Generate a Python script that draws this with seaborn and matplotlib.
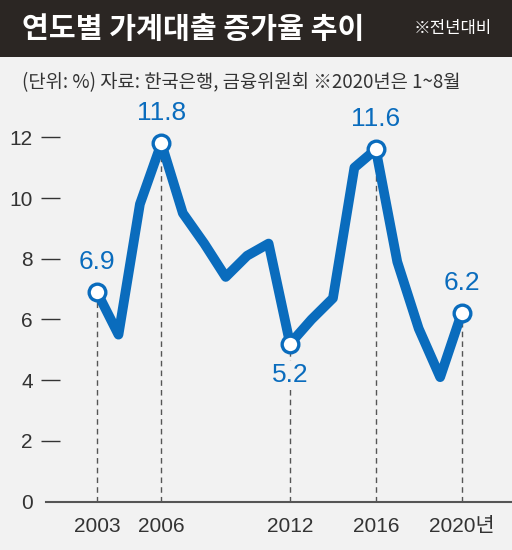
import matplotlib
matplotlib.use("Agg")
import matplotlib.pyplot as plt
from matplotlib.patches import Rectangle
from matplotlib.transforms import blended_transform_factory
import seaborn as sns
import pandas as pd

# ---- data ----
years = list(range(2003, 2021))
growth = [6.9, 5.5, 9.8, 11.8, 9.5, 8.5, 7.4, 8.1, 8.5, 5.2,
          6.0, 6.7, 11.0, 11.6, 7.9, 5.7, 4.1, 6.2]
highlight_years = [2003, 2006, 2012, 2016, 2020]
label_below = [2012]
xtick_years = [2003, 2006, 2012, 2016, 2020]
xtick_labels = ["2003", "2006", "2012", "2016", "2020년"]
ytick_vals = [0, 2, 4, 6, 8, 10, 12]
title = "연도별 가계대출 증가율 추이"
title_note = "※전년대비"
subtitle = "(단위: %) 자료: 한국은행, 금융위원회 ※2020년은 1~8월"

df = pd.DataFrame({"year": years, "growth": growth})
hl = df[df["year"].isin(highlight_years)]

BLUE = "#0a6cbd"
BG = "#f2f2f2"
BAR = "#2b2623"
GRAY = "#555555"
TXT = "#333333"

sns.set_theme(style="white")
plt.rcParams["font.family"] = ["Liberation Sans Narrow", "Liberation Sans",
                               "Noto Sans CJK KR", "DejaVu Sans"]
NUMFONT = ["Liberation Sans Narrow", "Liberation Sans", "Noto Sans CJK KR"]
KRFONT = ["Noto Sans CJK KR", "DejaVu Sans"]

W, H = 512, 550
fig = plt.figure(figsize=(W / 100, H / 100), dpi=100, facecolor=BG)

# title bar
bar_h = 56.7 / H
fig.patches.append(Rectangle((0, 1 - bar_h), 1, bar_h, transform=fig.transFigure,
                             facecolor=BAR, edgecolor="none", zorder=0))
fig.text(22 / W, 1 - 29 / H, title, color="white", fontsize=21, fontweight="bold",
         family=KRFONT, ha="left", va="center")
fig.text(492 / W, 1 - 29 / H, title_note, color="white", fontsize=12,
         family=KRFONT, ha="right", va="center")
fig.text(22 / W, 1 - 83 / H, subtitle, color=TXT, fontsize=13.5,
         family=KRFONT, ha="left", va="center")

# main axes
ax_left, ax_right = 46, 512
y0_px, top_px = 501.7, 95
ax = fig.add_axes([ax_left / W, (H - y0_px) / H, (ax_right - ax_left) / W,
                   (y0_px - top_px) / H])
ax.set_facecolor(BG)
ax.set_xlim(2000.62, 2022.35)
ax.set_ylim(0, (y0_px - top_px) / 30.37)

# dashed guide lines
ax.vlines(hl["year"], 0, hl["growth"], colors=GRAY, linestyles=(0, (4, 3)),
          linewidth=1, zorder=1)

sns.lineplot(data=df, x="year", y="growth", ax=ax, color=BLUE, linewidth=7,
             zorder=3, legend=False)
sns.scatterplot(data=hl, x="year", y="growth", ax=ax, s=12 ** 2, color="white",
                edgecolor=BLUE, linewidth=2.4, zorder=5, legend=False)

for _, r in hl.iterrows():
    below = r["year"] in label_below
    ax.annotate(f"{r['growth']:.1f}", (r["year"], r["growth"]),
                xytext=(0, -14 if below else 13), textcoords="offset points",
                ha="center", va="top" if below else "bottom",
                color=BLUE, fontsize=19, family=NUMFONT, zorder=6,
                bbox=dict(facecolor=BG, edgecolor="none", pad=1.5))

# axes styling
for s in ["left", "right", "top"]:
    ax.spines[s].set_visible(False)
ax.spines["bottom"].set_color(GRAY)
ax.spines["bottom"].set_linewidth(1.5)

ax.set_xticks(xtick_years)
ax.set_xticklabels(xtick_labels)
ax.set_xticks(years, minor=True)
ax.tick_params(axis="x", which="major", direction="in", length=15.5, width=1.1,
               color=GRAY, pad=11, labelsize=15, labelcolor=TXT)
ax.tick_params(axis="x", which="minor", direction="in", length=12, width=1.1,
               color=GRAY)
ax.set_yticks(ytick_vals)
ax.tick_params(axis="y", which="major", length=0, pad=9.5, labelsize=15,
               labelcolor=TXT)
trans = blended_transform_factory(ax.transAxes, ax.transData)
ax.hlines(ytick_vals[1:], (41 - ax_left) / (ax_right - ax_left),
          (60 - ax_left) / (ax_right - ax_left), colors=TXT, linewidth=1,
          transform=trans, clip_on=False)
ax.set_xlabel("")
ax.set_ylabel("")

fig.savefig("out.png", dpi=100, facecolor=BG)
